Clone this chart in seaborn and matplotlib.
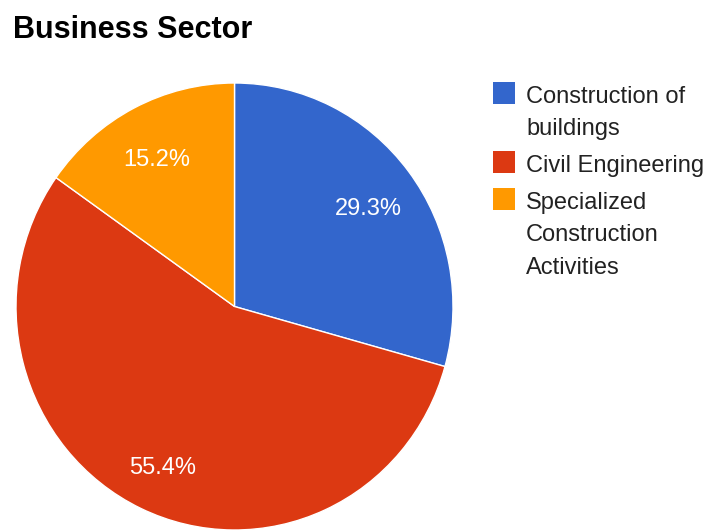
import matplotlib
matplotlib.use("Agg")
import matplotlib.pyplot as plt
import matplotlib.transforms as mtransforms
from matplotlib.patches import Rectangle
import seaborn as sns

# Share of firms by business sector (percent)
sectors = ["Construction of\nbuildings", "Civil Engineering",
           "Specialized\nConstruction\nActivities"]
shares = [29.3, 55.4, 15.2]
sector_colors = ["#3366CC", "#DC3912", "#FF9900"]
chart_title = "Business Sector"

sns.set_theme(style="white")
plt.rcParams["font.family"] = ["Liberation Sans", "DejaVu Sans"]

W, H = 707, 532
fig = plt.figure(figsize=(W / 100, H / 100), dpi=100)

# Pie area (pixel box: x 16..453, y 83..530)
ax = fig.add_axes([16 / W, (H - 530) / H, 437 / W, 447 / H])
total = sum(shares)
wedges, _, autotexts = ax.pie(
    shares,
    colors=sector_colors,
    startangle=90,
    counterclock=False,
    autopct=lambda p: f"{p * total / 100:.1f}%",
    pctdistance=0.77,
    wedgeprops=dict(edgecolor="white", linewidth=1.0),
    textprops=dict(color="white", fontsize=17),
)
# nudge the percentage labels slightly down, centred on their digits
nudge = mtransforms.ScaledTranslation(0, -4 / 100, fig.dpi_scale_trans)
for t in autotexts:
    t.set_va("center_baseline")
    t.set_transform(t.get_transform() + nudge)
ax.set_aspect("auto")
ax.set_xlim(-1, 1)
ax.set_ylim(-1, 1)
ax.axis("off")

# Title
fig.text(13 / W, 1 - 38 / H, chart_title, fontsize=22, fontweight="bold",
         color="black", ha="left", va="baseline")

# Legend: colour square beside each (possibly multi-line) label
line_pitch = 32.5
entry_gap = 4.0
baseline = 103.0
for label, color in zip(sectors, sector_colors):
    fig.patches.append(Rectangle(((493) / W, 1 - (baseline + 1) / H),
                                 22 / W, 22 / H,
                                 transform=fig.transFigure,
                                 facecolor=color, edgecolor="none"))
    lines = label.split("\n")
    for i, line in enumerate(lines):
        fig.text(526 / W, 1 - (baseline + i * line_pitch) / H, line,
                 fontsize=17, color="#222222", ha="left", va="baseline")
    baseline += len(lines) * line_pitch + entry_gap

fig.savefig("out.png", dpi=100, facecolor="white")
